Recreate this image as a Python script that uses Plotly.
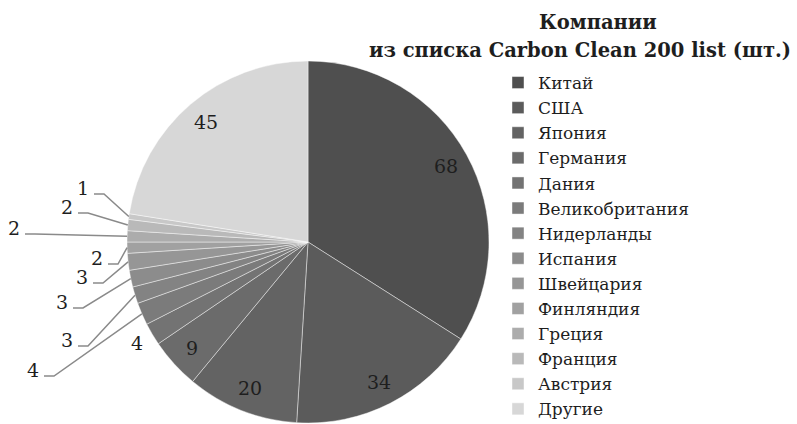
import math
import plotly.graph_objects as go

# ---- data ----
countries = ["Китай", "США", "Япония", "Германия", "Дания", "Великобритания",
             "Нидерланды", "Испания", "Швейцария", "Финляндия", "Греция",
             "Франция", "Австрия", "Другие"]
companies = [68, 34, 20, 9, 4, 4, 3, 3, 3, 2, 2, 2, 1, 45]
title_line1 = "Компании"
title_line2 = "из списка Carbon Clean 200 list (шт.)"

# ---- style / layout ----
colors = ["#4f4f4f", "#5b5b5b", "#636363", "#6b6b6b", "#737373", "#7b7b7b",
          "#838383", "#8c8c8c", "#969696", "#a1a1a1", "#acacac", "#b9b9b9",
          "#c8c8c8", "#d7d7d7"]
W, H = 797, 424
CX, CY, R = 308, 242, 181
FONT = "DejaVu Serif"
TXT = "#1e1e1e"

# outside label positions (pixel centres) for small slices with leader lines
outside_pos = {"Великобритания": (33, 370), "Нидерланды": (67, 340),
               "Испания": (62, 302), "Швейцария": (82, 277),
               "Финляндия": (97, 258), "Греция": (14, 228),
               "Франция": (67, 207), "Австрия": (83, 188)}
radial_factor = {"Дания": 1.1}


def px(x):
    return x / W


def py(y):
    return 1 - y / H


fig = go.Figure()
fig.add_trace(go.Pie(
    labels=countries, values=companies, sort=False, direction="clockwise",
    rotation=0, textinfo="none", hoverinfo="label+value",
    marker=dict(colors=colors, line=dict(color="rgba(255,255,255,0.55)", width=0.8)),
    domain=dict(x=[px(CX - R), px(CX + R)], y=[py(CY + R), py(CY - R)]),
))

total = sum(companies)
annotations = []
shapes = []
cum = 0
for name, v in zip(countries, companies):
    theta = 2 * math.pi * (cum + v / 2) / total
    cum += v
    if name in outside_pos:
        lx, ly = outside_pos[name]
        ex = CX + R * math.sin(theta)
        ey = CY - R * math.cos(theta)
        x0, y0 = lx + 11, ly + 6
        x1 = x0 + 10
        path = f"M {px(x0)} {py(y0)} L {px(x1)} {py(y0)} L {px(ex)} {py(ey)}"
        shapes.append(dict(type="path", xref="paper", yref="paper", path=path,
                           line=dict(color="#8a8a8a", width=1.5)))
        tx, ty = lx, ly
    else:
        f = radial_factor.get(name, 0.87)
        tx = CX + R * f * math.sin(theta)
        ty = CY - R * f * math.cos(theta)
    annotations.append(dict(x=px(tx), y=py(ty), xref="paper", yref="paper",
                            text=str(v), showarrow=False,
                            xanchor="center", yanchor="middle",
                            font=dict(family=FONT, size=19, color=TXT)))

annotations.append(dict(x=px(598), y=py(22), xref="paper", yref="paper",
                        text=f"<b>{title_line1}</b>", showarrow=False,
                        xanchor="center", yanchor="middle",
                        font=dict(family=FONT, size=19.5, color=TXT)))
annotations.append(dict(x=px(793), y=py(51), xref="paper", yref="paper",
                        text=f"<b>{title_line2}</b>", showarrow=False,
                        xanchor="right", yanchor="middle",
                        font=dict(family=FONT, size=19.5, color=TXT)))

fig.update_layout(
    width=W, height=H, autosize=False,
    margin=dict(l=0, r=0, t=0, b=0, autoexpand=False),
    paper_bgcolor="white", plot_bgcolor="white",
    showlegend=True,
    legend=dict(x=px(498), y=py(65), xanchor="left", yanchor="top",
                font=dict(family=FONT, size=17, color=TXT),
                itemwidth=30, tracegroupgap=0, bgcolor="rgba(0,0,0,0)"),
    annotations=annotations, shapes=shapes,
)

fig.write_html("out.html",
               config={"displayModeBar": False},
               post_script="document.body.style.margin='0px';"
                           "document.body.style.overflow='hidden';")
